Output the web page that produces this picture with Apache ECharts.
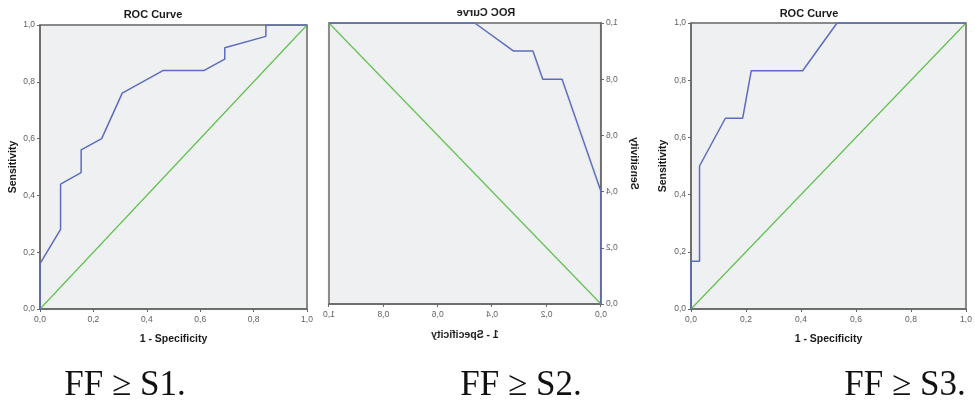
<!DOCTYPE html>
<html>
<head>
<meta charset="utf-8">
<script src="https://cdn.jsdelivr.net/npm/echarts@6/dist/echarts.min.js"></script>
<style>
html,body{margin:0;padding:0;background:#fff;}
#main{position:absolute;left:0;top:0;width:975px;height:403px;}
#mirror{position:absolute;left:300px;top:0;width:350px;height:403px;transform:scaleX(-1);transform-origin:50% 50%;}
</style>
</head>
<body>
<div id="main"></div>
<div id="mirror"></div>
<script>
// ---- data ----
const fpr1 = [0, 0, 0.077, 0.077, 0.154, 0.154, 0.231, 0.308, 0.462, 0.615, 0.692, 0.692, 0.846, 0.846, 1];
const tpr1 = [0, 0.16, 0.28, 0.44, 0.48, 0.56, 0.60, 0.76, 0.84, 0.84, 0.88, 0.92, 0.96, 1, 1];
const fpr2 = [0, 0, 0.143, 0.214, 0.25, 0.321, 0.464, 1];
const tpr2 = [0, 0.4, 0.8, 0.8, 0.9, 0.9, 1, 1];
const fpr3 = [0, 0, 0.031, 0.031, 0.125, 0.188, 0.219, 0.406, 0.531, 1];
const tpr3 = [0, 0.167, 0.167, 0.5, 0.667, 0.667, 0.833, 0.833, 1, 1];
const refLine = [0, 1];
const tickValues = [0, 0.2, 0.4, 0.6, 0.8, 1];
const chartTitle = 'ROC Curve';
const xName = '1 - Specificity';
const yName = 'Sensitivity';
const captions = ['FF \u2265 S1.', 'FF \u2265 S2.', 'FF \u2265 S3.'];

// ---- styles ----
const SANS = 'Liberation Sans, Arial, sans-serif';
const FRAME = '#666666';
const BLUE = '#5d6cbd';
const GREEN = '#5cbf4a';
const BG = '#eff0f1';
const fmt = v => v.toFixed(1).replace('.', ',');

function zip(a, b) { return a.map((v, i) => [v, b[i]]); }

function panel(idx, box, fpr, tpr) {
  const grid = {left: box.left, top: box.top, width: box.width, height: box.height,
    show: true, backgroundColor: BG, borderColor: FRAME, borderWidth: 1.5};
  const axisCommon = {
    type: 'value', min: tickValues[0], max: tickValues[tickValues.length - 1], interval: 0.2, gridIndex: idx,
    splitLine: {show: false},
    axisLine: {show: true, onZero: false, lineStyle: {color: FRAME, width: 1.5}},
    axisTick: {show: true, length: 3, lineStyle: {color: FRAME}},
    axisLabel: {formatter: fmt, fontSize: 8.5, color: '#606060', fontFamily: SANS},
    nameLocation: 'middle',
    nameTextStyle: {fontSize: 10.5, fontWeight: 'bold', color: '#1a1a1a', fontFamily: SANS}
  };
  const xAxis = Object.assign({}, axisCommon, {name: xName, nameGap: box.xGap,
    axisLabel: Object.assign({}, axisCommon.axisLabel, {margin: 6})});
  const yAxis = Object.assign({}, axisCommon, {name: yName, nameGap: box.yGap,
    axisLabel: Object.assign({}, axisCommon.axisLabel, {margin: 5})});
  const series = [
    {type: 'line', xAxisIndex: idx, yAxisIndex: idx, data: zip(refLine, refLine),
     symbol: 'none', lineStyle: {color: GREEN, width: 1.1}, z: 3, silent: true},
    {type: 'line', xAxisIndex: idx, yAxisIndex: idx, data: zip(fpr, tpr),
     symbol: 'none', lineStyle: {color: BLUE, width: 1.5}, z: 4, silent: true}
  ];
  const title = {text: chartTitle, left: box.titleX, top: box.titleY, textAlign: 'center', padding: 0,
    textStyle: {fontSize: 11, fontWeight: 'bold', color: '#1a1a1a', fontFamily: SANS}};
  return {grid, xAxis, yAxis, series, title};
}

const p1 = panel(0, {left: 40, top: 25, width: 267, height: 284, xGap: 25, yGap: 21, titleX: 153, titleY: 9}, fpr1, tpr1);
const p3 = panel(1, {left: 691, top: 23, width: 275, height: 286, xGap: 25, yGap: 22, titleX: 809, titleY: 8}, fpr3, tpr3);

const capStyle = {fontSize: 35, fontWeight: 'normal', color: '#111', fontFamily: 'Liberation Serif, Times New Roman, serif'};
const capTitles = [
  {text: captions[0], left: 125, top: 368, textAlign: 'center', padding: 0, textStyle: capStyle},
  {text: captions[1], left: 521, top: 368, textAlign: 'center', padding: 0, textStyle: capStyle},
  {text: captions[2], left: 905, top: 368, textAlign: 'center', padding: 0, textStyle: capStyle}
];

const main = echarts.init(document.getElementById('main'), null, {renderer: 'canvas'});
main.setOption({
  animation: false,
  title: [p1.title, p3.title].concat(capTitles),
  grid: [p1.grid, p3.grid],
  xAxis: [p1.xAxis, p3.xAxis],
  yAxis: [p1.yAxis, p3.yAxis],
  series: p1.series.concat(p3.series)
});

// middle panel is shown mirrored (left-right), as in the reference image
const p2 = panel(0, {left: 49, top: 23, width: 272, height: 281, xGap: 26, yGap: 21, titleX: 164, titleY: 7}, fpr2, tpr2);
const mirror = echarts.init(document.getElementById('mirror'), null, {renderer: 'canvas'});
mirror.setOption({
  animation: false,
  title: [p2.title],
  grid: [p2.grid],
  xAxis: [p2.xAxis],
  yAxis: [p2.yAxis],
  series: p2.series
});
</script>
</body>
</html>
